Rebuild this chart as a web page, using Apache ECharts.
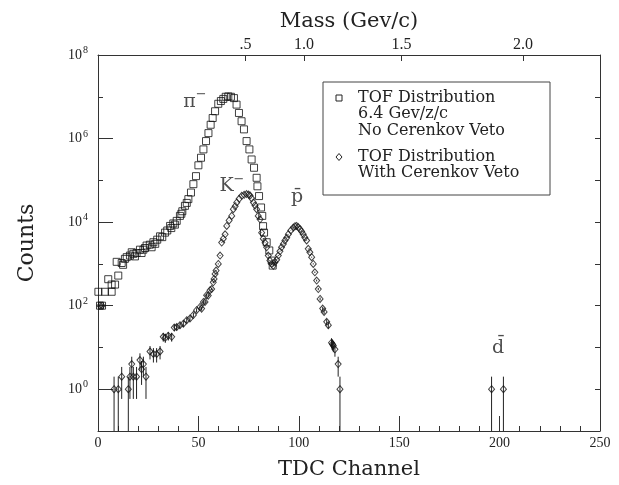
<!DOCTYPE html>
<html>
<head>
<meta charset="utf-8">
<script src="https://cdn.jsdelivr.net/npm/echarts@6.0.0/dist/echarts.min.js"></script>
<style>html,body{margin:0;padding:0;background:#fff;}#c{width:619px;height:485px;}</style>
</head>
<body>
<div id="c"></div>
<script>
// ---- data ----
const sqChannel = [0.2,1.0,2.0,3.5,5.1,6.8,6.8,8.5,9.3,10.1,11.8,12.5,13.4,14.3,15.9,16.8,17.6,18.4,19.2,20.9,21.7,22.6,23.4,24.2,25.8,26.7,27.6,28.5,29.5,30.9,32.0,33.4,34.5,35.9,36.5,37.5,38.3,39.2,40.8,41.5,42.0,43.3,44.2,45.0,46.3,47.5,48.8,50.0,51.3,52.5,53.8,55.0,56.1,57.1,58.3,59.9,61.2,62.4,63.6,64.9,66.2,67.7,69.0,70.2,71.5,72.7,74.0,75.4,76.5,77.7,79.0,79.4,80.2,81.2,81.8,82.2,82.7,84.0,85.3,86.5,87.0];
const sqCounts = [215,100,100,215,430,215,320,320,1120,525,1050,950,1320,1450,1580,1900,1740,1510,1820,2190,1820,2190,2400,2750,2880,2500,3300,3020,3800,4570,4370,5600,6300,8100,7200,9300,8700,10700,14100,15800,18200,24500,28800,35500,51000,81000,126000,229000,347000,550000,870000,1350000,2140000,3100000,4500000,6800000,7900000,8900000,10000000,10200000,10000000,9300000,6500000,4100000,2600000,1660000,870000,550000,316000,200000,115000,72000,42000,22400,14100,8000,5600,3300,2100,1200,910];

const vetoChannel = [1,2,8.0,10.1,11.8,15.1,15.9,16.8,17.6,19.2,20.9,21.7,22.6,23.9,25.9,27.6,29.2,30.9,32.5,33.5,35.0,36.7,38.0,39.2,40.8,42.5,44.2,45.8,47.5,49.1,50.8,51.6,52.5,53.3,54.1,54.9,55.8,56.6,57.4,57.8,58.3,58.8,59.9,60.8,61.6,62.4,63.3,64.1,65.3,66.6,67.4,68.3,69.1,70.3,71.6,72.8,74.0,75.0,75.7,76.5,77.4,78.2,79.0,79.8,80.7,81.5,82.3,83.2,84.0,84.8,85.6,86.5,87.3,88.1,89.0,89.8,90.6,91.4,92.3,93.1,94.0,94.8,96.0,97.3,98.1,98.9,99.7,100.6,101.4,102.2,103.0,103.9,104.7,105.5,106.4,107.2,108.0,108.9,109.7,110.6,111.9,112.6,113.9,114.7,116.3,116.8,117.2,118.0,119.6,120.5,196.0,201.9];
const vetoCounts = [100,100,1,1,2,1,2,4,2,2,5,3,4,2,8,7,7,8,18,17,19,18,30,31,34,37,45,49,60,78,93,85,123,123,178,174,234,250,363,436,575,690,1000,1580,3240,4000,5100,8100,11000,14100,20400,24000,29500,36000,42700,45000,46800,45700,43600,37000,29500,25000,20400,14100,11700,5600,4000,3200,2500,1580,1200,1000,900,1100,1260,1580,2000,2500,3000,3630,4200,5130,6300,7400,8000,8100,7600,6760,6000,5130,4300,3630,2290,1900,1450,1000,630,400,250,145,85,71,41,34,13,12,11,9,4,1,1,1];

const massChannels = [73.5, 102.6, 151.2, 211.6];
const massLabels = ['.5', '1.0', '1.5', '2.0'];

const xTicksMax = 250;
const yMin = 0.1, yMax = 1e8;
const yLabelDecades = [1, 1e2, 1e4, 1e6, 1e8];
const yMinorDecades = [0.1, 10, 1e3, 1e5, 1e7];
const yAllDecades = [0.1, 1, 10, 1e2, 1e3, 1e4, 1e5, 1e6, 1e7, 1e8];

const annotText = ['{g|π}{s|−}', '{g|K}{s|−}', '{g|p̄}', '{g|d̄}'];
const annotChannel = [48.3, 66.7, 99.1, 199.2];
const annotCount = [7.6e6, 72000, 40000, 9.5];

const legendLines1 = 'TOF Distribution\n6.4 Gev/z/c\nNo Cerenkov Veto';
const legendLines2 = 'TOF Distribution\nWith Cerenkov Veto';

// ---- chart ----
const serif = '"DejaVu Serif", serif';
const lserif = '"Liberation Serif", serif';
const ink = '#222';
const chart = echarts.init(document.getElementById('c'), null, {renderer: 'canvas'});

const sqData = sqChannel.map((c, i) => [c, sqCounts[i]]);
const vetoData = vetoChannel.map((c, i) => [c, vetoCounts[i]]);
const annData = annotChannel.map((c, i) => ({value: [c, annotCount[i]], label: {formatter: annotText[i]}}));

const axisLine = {show: true, lineStyle: {color: '#333', width: 1}};

chart.setOption({
  animation: false,
  backgroundColor: '#fff',
  grid: {left: 98, right: 19, top: 55, bottom: 50, containLabel: false},
  xAxis: [
    {
      type: 'value', position: 'bottom', min: 0, max: xTicksMax, interval: 50,
      axisLine: axisLine, splitLine: {show: false},
      axisTick: {show: true, inside: true, length: 15, lineStyle: {color: '#333'}},
      minorTick: {show: true, splitNumber: 5, length: 5, lineStyle: {color: '#333'}},
      axisLabel: {margin: 5, fontFamily: lserif, fontSize: 14, color: ink},
      name: 'TDC Channel', nameLocation: 'middle', nameGap: 28,
      nameTextStyle: {fontFamily: serif, fontSize: 21, color: ink}
    },
    {
      type: 'value', position: 'top', min: 0, max: xTicksMax,
      axisLine: axisLine, splitLine: {show: false},
      axisTick: {show: true, inside: true, length: 6, customValues: massChannels, lineStyle: {color: '#333'}},
      axisLabel: {
        show: true, margin: 2, fontFamily: lserif, fontSize: 16, color: ink,
        customValues: massChannels,
        formatter: (v) => { const i = massChannels.findIndex(m => Math.abs(m - v) < 1e-6); return i >= 0 ? massLabels[i] : ''; }
      },
      name: 'Mass (Gev/c)', nameLocation: 'middle', nameGap: 20,
      nameTextStyle: {fontFamily: serif, fontSize: 21, color: ink}
    }
  ],
  yAxis: [
    {
      type: 'log', logBase: 10, min: yMin, max: yMax, position: 'left',
      axisLine: axisLine, splitLine: {show: false},
      axisTick: {show: true, inside: true, length: 15, customValues: yLabelDecades, lineStyle: {color: '#333'}},
      axisLabel: {
        show: true, margin: 10, customValues: yLabelDecades,
        formatter: (v) => '{b|10}{s|' + Math.round(Math.log10(v)) + '}',
        rich: {
          b: {fontFamily: lserif, fontSize: 14, color: ink},
          s: {fontFamily: lserif, fontSize: 10, color: ink, padding: [0, 0, 9, 1]}
        }
      },
      name: 'Counts', nameLocation: 'middle', nameGap: 60,
      nameTextStyle: {fontFamily: serif, fontSize: 22, color: ink}
    },
    {
      type: 'log', logBase: 10, min: yMin, max: yMax, position: 'left',
      axisLine: {show: false}, splitLine: {show: false}, axisLabel: {show: false},
      axisTick: {show: true, inside: true, length: 5, customValues: yMinorDecades, lineStyle: {color: '#333'}}
    },
    {
      type: 'log', logBase: 10, min: yMin, max: yMax, position: 'right',
      axisLine: axisLine, splitLine: {show: false}, axisLabel: {show: false},
      axisTick: {show: true, inside: true, length: 5, customValues: yAllDecades, lineStyle: {color: '#333'}}
    }
  ],
  series: [
    {
      name: 'TOF Distribution 6.4 Gev/z/c No Cerenkov Veto',
      type: 'scatter', xAxisIndex: 0, yAxisIndex: 0,
      data: sqData, symbol: 'rect', symbolSize: 7,
      itemStyle: {color: 'rgba(0,0,0,0)', borderColor: '#111', borderWidth: 1},
      z: 2
    },
    {
      name: 'errors',
      type: 'custom', xAxisIndex: 0, yAxisIndex: 0,
      data: vetoData,
      clip: true,
      renderItem: (params, api) => {
        const x = api.value(0), v = api.value(1);
        const s = Math.sqrt(v);
        const lo = Math.max(v - s, yMin), hi = Math.min(v + s, yMax);
        const p1 = api.coord([x, lo]), p2 = api.coord([x, hi]);
        return {type: 'line', shape: {x1: p1[0], y1: p1[1], x2: p2[0], y2: p2[1]},
                style: {stroke: '#222', lineWidth: 1}};
      },
      z: 3
    },
    {
      name: 'TOF Distribution With Cerenkov Veto',
      type: 'scatter', xAxisIndex: 0, yAxisIndex: 0,
      data: vetoData, symbol: 'diamond', symbolSize: [6, 7],
      itemStyle: {color: 'rgba(0,0,0,0)', borderColor: '#111', borderWidth: 1},
      z: 4
    },
    {
      name: 'labels',
      type: 'scatter', xAxisIndex: 0, yAxisIndex: 0,
      data: annData, symbolSize: 0, silent: true,
      label: {
        show: true, position: 'inside',
        rich: {
          g: {fontFamily: serif, fontSize: 19, color: ink},
          s: {fontFamily: serif, fontSize: 13, color: ink, padding: [0, 0, 14, 0]}
        }
      },
      z: 5
    }
  ],
  graphic: [
    {type: 'rect', shape: {x: 323, y: 82, width: 227, height: 113},
     style: {fill: 'none', stroke: '#444', lineWidth: 1}, z: 10},
    {type: 'rect', shape: {x: 336, y: 95, width: 6, height: 6},
     style: {fill: 'none', stroke: '#222', lineWidth: 1}, z: 10},
    {type: 'polygon', shape: {points: [[339, 153.5], [342, 157], [339, 160.5], [336, 157]]},
     style: {fill: 'none', stroke: '#222', lineWidth: 1}, z: 10},
    {type: 'text', x: 358, y: 89.5,
     style: {text: legendLines1, font: '16px ' + serif, fill: ink, lineHeight: 16.5}, z: 10},
    {type: 'text', x: 358, y: 148.5,
     style: {text: legendLines2, font: '16px ' + serif, fill: ink, lineHeight: 16.5}, z: 10}
  ]
});
</script>
</body>
</html>
